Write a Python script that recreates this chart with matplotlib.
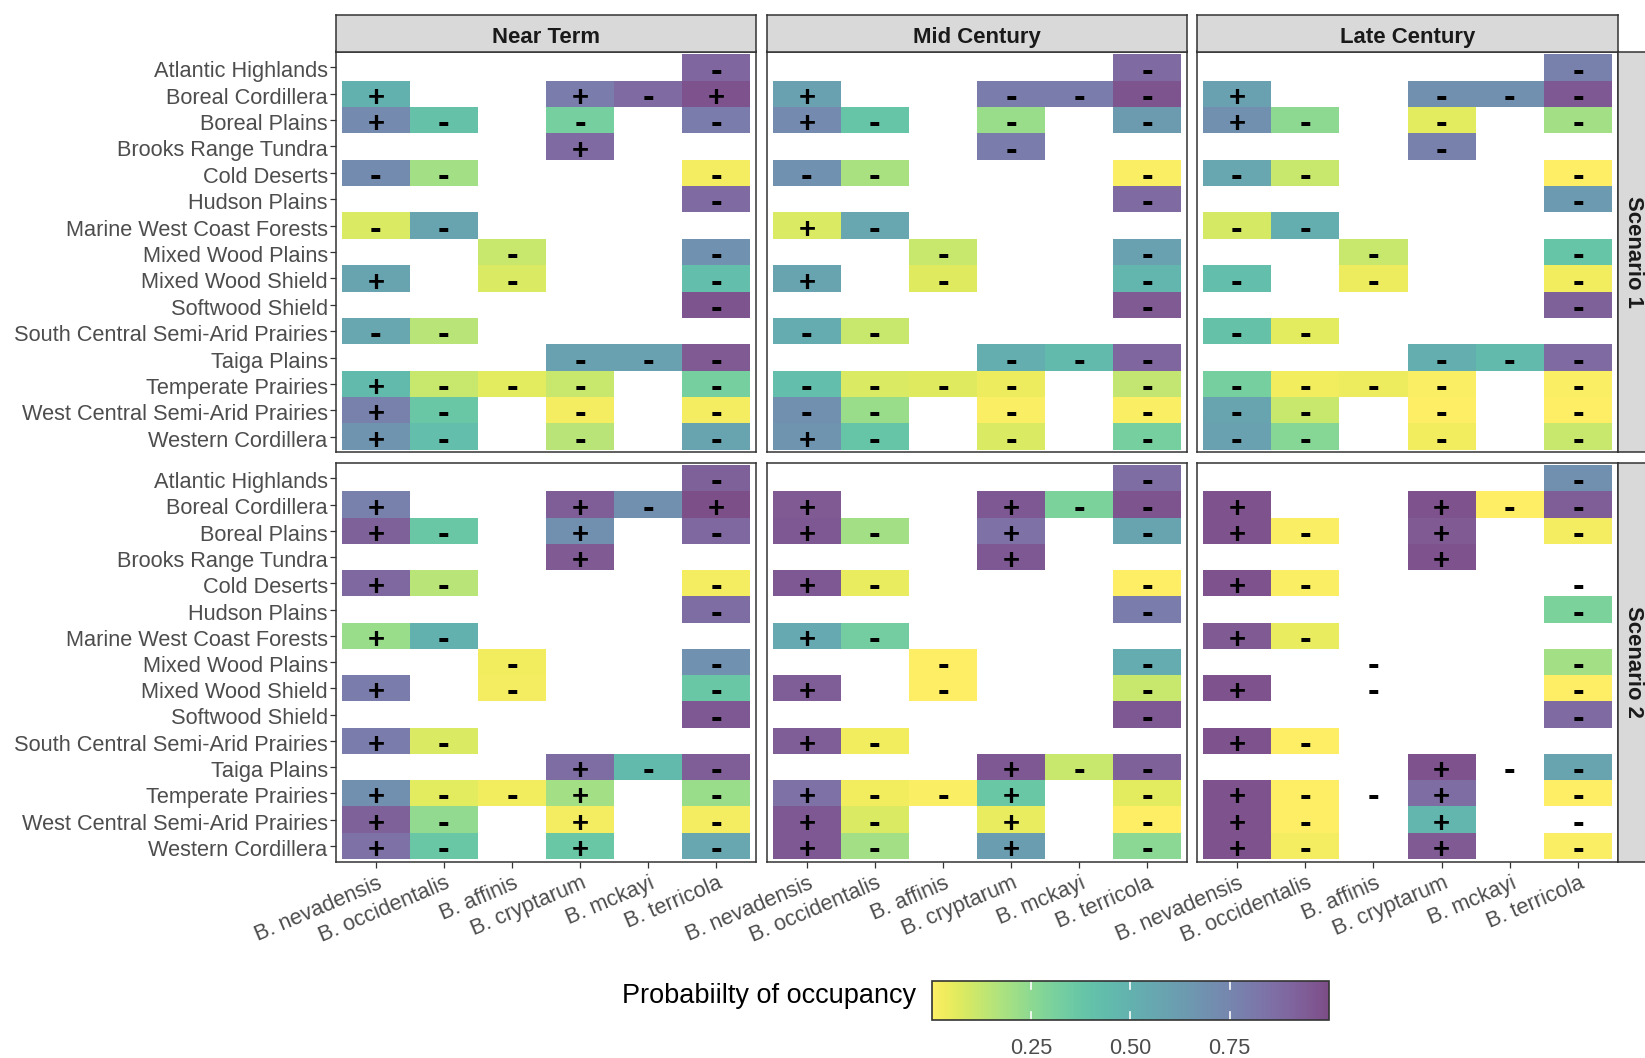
import numpy as np
import matplotlib
matplotlib.use("Agg")
import matplotlib.pyplot as plt
from matplotlib.colors import ListedColormap, Normalize
from matplotlib.cm import ScalarMappable
import matplotlib.transforms as mtransforms

plt.rcParams['font.family'] = ['Liberation Sans', 'DejaVu Sans']

regions = ["Atlantic Highlands", "Boreal Cordillera", "Boreal Plains", "Brooks Range Tundra",
           "Cold Deserts", "Hudson Plains", "Marine West Coast Forests", "Mixed Wood Plains",
           "Mixed Wood Shield", "Softwood Shield", "South Central Semi-Arid Prairies",
           "Taiga Plains", "Temperate Prairies", "West Central Semi-Arid Prairies",
           "Western Cordillera"]
species = ["B. nevadensis", "B. occidentalis", "B. affinis", "B. cryptarum", "B. mckayi", "B. terricola"]
periods = ["Near Term", "Mid Century", "Late Century"]
scenarios = ["Scenario 1", "Scenario 2"]

N = np.nan
# Probability of occupancy, rows = regions, cols = species
s1_near = [
    [N, N, N, N, N, 0.90],
    [0.50, N, N, 0.80, 0.88, 0.98],
    [0.73, 0.40, N, 0.32, N, 0.80],
    [N, N, N, 0.88, N, N],
    [0.72, 0.20, N, N, N, 0.02],
    [N, N, N, N, N, 0.88],
    [0.08, 0.58, N, N, N, N],
    [N, N, 0.12, N, N, 0.68],
    [0.58, N, 0.08, N, N, 0.42],
    [N, N, N, N, N, 0.97],
    [0.57, 0.15, N, N, N, N],
    [N, N, N, 0.60, 0.60, 0.95],
    [0.45, 0.12, 0.06, 0.12, N, 0.32],
    [0.78, 0.37, N, 0.02, N, 0.02],
    [0.67, 0.42, N, 0.15, N, 0.58],
]
s1_mid = [
    [N, N, N, N, N, 0.88],
    [0.60, N, N, 0.80, 0.80, 0.97],
    [0.73, 0.38, N, 0.22, N, 0.63],
    [N, N, N, 0.80, N, N],
    [0.68, 0.18, N, N, N, 0.01],
    [N, N, N, N, N, 0.88],
    [0.08, 0.57, N, N, N, N],
    [N, N, 0.12, N, N, 0.60],
    [0.58, N, 0.07, N, N, 0.47],
    [N, N, N, N, N, 0.95],
    [0.53, 0.12, N, N, N, N],
    [N, N, N, 0.52, 0.45, 0.90],
    [0.42, 0.08, 0.07, 0.04, N, 0.13],
    [0.70, 0.22, N, 0.01, N, 0.01],
    [0.67, 0.38, N, 0.08, N, 0.32],
]
s1_late = [
    [N, N, N, N, N, 0.78],
    [0.60, N, N, 0.70, 0.70, 0.96],
    [0.70, 0.25, N, 0.06, N, 0.20],
    [N, N, N, 0.78, N, N],
    [0.57, 0.12, N, N, N, 0.00],
    [N, N, N, N, N, 0.64],
    [0.09, 0.52, N, N, N, N],
    [N, N, 0.12, N, N, 0.38],
    [0.42, N, 0.04, N, N, 0.03],
    [N, N, N, N, N, 0.92],
    [0.40, 0.06, N, N, N, N],
    [N, N, N, 0.52, 0.45, 0.88],
    [0.32, 0.03, 0.04, 0.01, N, 0.01],
    [0.58, 0.12, N, 0.00, N, 0.00],
    [0.60, 0.27, N, 0.03, N, 0.12],
]
s2_near = [
    [N, N, N, N, N, 0.92],
    [0.78, N, N, 0.94, 0.70, 0.99],
    [0.92, 0.37, N, 0.70, N, 0.89],
    [N, N, N, 0.95, N, N],
    [0.89, 0.15, N, N, N, 0.02],
    [N, N, N, N, N, 0.87],
    [0.22, 0.50, N, N, N, N],
    [N, N, 0.03, N, N, 0.68],
    [0.80, N, 0.02, N, N, 0.37],
    [N, N, N, N, N, 0.96],
    [0.80, 0.08, N, N, N, N],
    [N, N, N, 0.87, 0.45, 0.94],
    [0.70, 0.06, 0.03, 0.20, N, 0.22],
    [0.92, 0.24, N, 0.02, N, 0.02],
    [0.85, 0.37, N, 0.37, N, 0.57],
]
s2_mid = [
    [N, N, N, N, N, 0.87],
    [0.95, N, N, 0.96, 0.30, 0.97],
    [0.96, 0.20, N, 0.85, N, 0.58],
    [N, N, N, 0.96, N, N],
    [0.96, 0.05, N, N, N, 0.00],
    [N, N, N, N, N, 0.80],
    [0.55, 0.33, N, N, N, N],
    [N, N, 0.00, N, N, 0.53],
    [0.94, N, 0.00, N, N, 0.12],
    [N, N, N, N, N, 0.96],
    [0.93, 0.03, N, N, N, N],
    [N, N, N, 0.96, 0.12, 0.92],
    [0.85, 0.03, 0.01, 0.37, N, 0.06],
    [0.96, 0.08, N, 0.05, N, 0.00],
    [0.96, 0.20, N, 0.62, N, 0.26],
]
s2_late = [
    [N, N, N, N, N, 0.70],
    [0.98, N, N, 0.98, 0.00, 0.93],
    [0.98, 0.01, N, 0.95, N, 0.02],
    [N, N, N, 0.98, N, N],
    [0.98, 0.01, N, N, N, N],
    [N, N, N, N, N, 0.30],
    [0.95, 0.05, N, N, N, N],
    [N, N, N, N, N, 0.20],
    [0.98, N, N, N, N, 0.00],
    [N, N, N, N, N, 0.88],
    [0.98, 0.00, N, N, N, N],
    [N, N, N, 0.98, N, 0.58],
    [0.98, 0.00, N, 0.87, N, 0.00],
    [0.98, 0.00, N, 0.47, N, N],
    [0.98, 0.02, N, 0.95, N, 0.01],
]

# Direction of change labels per cell (space = no label), one string per region
s1_near_lab = [
    "     -", "+  +-+", "+- - -", "   +  ", "--   -", "     -", "--    ", "  -  -",
    "+ -  -", "     -", "--    ", "   ---", "+--- -", "+- - -", "+- - -"]
s1_mid_lab = [
    "     -", "+  ---", "+- - -", "   -  ", "--   -", "     -", "+-    ", "  -  -",
    "+ -  -", "     -", "--    ", "   ---", "---- -", "-- - -", "+- - -"]
s1_late_lab = [
    "     -", "+  ---", "+- - -", "   -  ", "--   -", "     -", "--    ", "  -  -",
    "- -  -", "     -", "--    ", "   ---", "---- -", "-- - -", "-- - -"]
s2_near_lab = [
    "     -", "+  +-+", "+- + -", "   +  ", "+-   -", "     -", "+-    ", "  -  -",
    "+ -  -", "     -", "+-    ", "   +--", "+--+ -", "+- + -", "+- + -"]
s2_mid_lab = [
    "     -", "+  +--", "+- + -", "   +  ", "+-   -", "     -", "+-    ", "  -  -",
    "+ -  -", "     -", "+-    ", "   +--", "+--+ -", "+- + -", "+- + -"]
s2_late_lab = [
    "     -", "+  +--", "+- + -", "   +  ", "+-   -", "     -", "+-    ", "  -  -",
    "+ -  -", "     -", "+-    ", "   +--", "+--+ -", "+- + -", "+- + -"]

values = [[s1_near, s1_mid, s1_late], [s2_near, s2_mid, s2_late]]
labels = [[s1_near_lab, s1_mid_lab, s1_late_lab], [s2_near_lab, s2_mid_lab, s2_late_lab]]

# colour map: reversed viridis at alpha 0.7 on white
base = plt.get_cmap('viridis_r')(np.linspace(0, 1, 256))
blend = base.copy()
blend[:, :3] = 0.7 * base[:, :3] + 0.3
blend[:, 3] = 1.0
cmap = ListedColormap(blend)
cmap.set_bad((1, 1, 1, 0))
norm = Normalize(0, 1)

W, H = 1645, 1058
fig = plt.figure(figsize=(W / 100, H / 100), dpi=100)

def add_px(x0, y0, x1, y1):
    return fig.add_axes([x0 / W, 1 - y1 / H, (x1 - x0) / W, (y1 - y0) / H])

col_x = [(336, 756), (767, 1187), (1197, 1618)]
row_y = [(51.5, 452.5), (462.5, 861.5)]
text_gray = '#4d4d4d'
border = '#333333'
fs = 15.7

for r in range(2):
    for c in range(3):
        x0, x1 = col_x[c]
        y0, y1 = row_y[r]
        ax = add_px(x0, y0, x1, y1)
        data = np.ma.masked_invalid(np.array(values[r][c], dtype=float))
        ax.pcolormesh(np.arange(len(species) + 1) - 0.5, np.arange(len(regions) + 1) - 0.5,
                      data, cmap=cmap, norm=norm, shading='flat', linewidth=0)
        labs = labels[r][c]
        for i in range(len(regions)):
            row = labs[i].ljust(6)
            for j in range(len(species)):
                ch = row[j]
                if ch == "+":
                    ax.text(j, i + 0.46, ch, ha='center', va='baseline',
                            fontsize=21, fontweight='bold', color='black')
                elif ch == "-":
                    ax.text(j, i + 0.50, ch, ha='center', va='baseline',
                            fontsize=25, fontweight='bold', color='black')
        ax.set_xlim(-0.585, 5.585)
        ax.set_ylim(14.6, -0.6)
        ax.set_facecolor('white')
        for s in ax.spines.values():
            s.set_color(border)
            s.set_linewidth(1.1)
        ax.set_xticks(range(len(species)))
        ax.set_yticks(range(len(regions)))
        ax.tick_params(length=4, width=0.9, color=border)
        if c == 0:
            ax.set_yticklabels(regions, fontsize=fs, color=text_gray)
            ax.tick_params(axis='y', pad=2)
            yoff = mtransforms.ScaledTranslation(0, -2 / 100, fig.dpi_scale_trans)
            for lbl in ax.get_yticklabels():
                lbl.set_transform(lbl.get_transform() + yoff)
        else:
            ax.tick_params(axis='y', left=False, labelleft=False)
        if r == 1:
            ax.set_xticklabels(species, fontsize=fs, color=text_gray, rotation=23,
                               ha='right', va='top', rotation_mode='anchor')
            off = mtransforms.ScaledTranslation(1 / 100, -1 / 100, fig.dpi_scale_trans)
            for lbl in ax.get_xticklabels():
                lbl.set_transform(lbl.get_transform() + off)
        else:
            ax.tick_params(axis='x', bottom=False, labelbottom=False)

# top strips
for c in range(3):
    x0, x1 = col_x[c]
    sax = add_px(x0, 14.5, x1, 51.5)
    sax.set_facecolor('#d9d9d9')
    sax.set_xticks([]); sax.set_yticks([])
    for s in sax.spines.values():
        s.set_color(border); s.set_linewidth(1.1)
    sax.text(0.5, 0.39, periods[c], ha='center', va='center', fontsize=fs + 0.2,
             fontweight='bold', color='#1a1a1a', transform=sax.transAxes)

# right strips
for r in range(2):
    y0, y1 = row_y[r]
    sax = add_px(1618, y0, 1652, y1)
    sax.set_facecolor('#d9d9d9')
    sax.set_xticks([]); sax.set_yticks([])
    for s in sax.spines.values():
        s.set_color(border); s.set_linewidth(1.1)
    sax.text(15 / 34, 0.5, scenarios[r], ha='center', va='center', rotation=-90,
             fontsize=fs + 0.2, fontweight='bold', color='#1a1a1a', transform=sax.transAxes)

# colour bar
cax = add_px(931.5, 981, 1329, 1020)
sm = ScalarMappable(norm=norm, cmap=cmap)
cb = fig.colorbar(sm, cax=cax, orientation='horizontal')
cb.outline.set_edgecolor('#333333')
cb.outline.set_linewidth(1.2)
cticks = [0.25, 0.50, 0.75]
cb.set_ticks(cticks)
cb.set_ticklabels(["0.25", "0.50", "0.75"])
cax.tick_params(length=0, pad=13, labelsize=fs, labelcolor=text_gray)
for t in cticks:
    cax.plot([t, t], [0, 0.2], color='white', lw=1.2, transform=cax.get_xaxis_transform())
    cax.plot([t, t], [0.8, 1.0], color='white', lw=1.2, transform=cax.get_xaxis_transform())
fig.text(916 / W, 1 - 996 / H, "Probabiilty of occupancy", ha='right', va='center',
         fontsize=19.5, color='black')

fig.savefig("out.png", dpi=100, facecolor='white')
